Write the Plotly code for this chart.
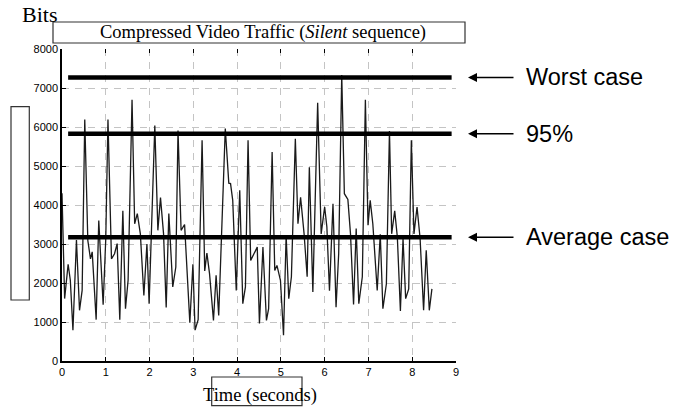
import plotly.graph_objects as go

# ---- data ----
time_s = [0.00, 0.06, 0.14, 0.19, 0.25, 0.33, 0.40, 0.46, 0.52, 0.59, 0.65, 0.69, 0.78, 0.84, 0.94, 1.00,
          1.05, 1.13, 1.20, 1.26, 1.32, 1.39, 1.45, 1.51, 1.60, 1.66, 1.72, 1.79, 1.87, 1.94, 1.99,
          2.12, 2.19, 2.25, 2.32, 2.38, 2.44, 2.53, 2.60, 2.65, 2.72, 2.80, 2.92, 2.99, 3.04, 3.11,
          3.20, 3.26, 3.31, 3.37, 3.46, 3.52, 3.58, 3.65, 3.73, 3.81, 3.85, 3.90, 3.98, 4.06, 4.13,
          4.19, 4.25, 4.31, 4.38, 4.46, 4.51, 4.59, 4.67, 4.72, 4.80, 4.86, 4.91, 4.99, 5.06, 5.12,
          5.18, 5.24, 5.33, 5.39, 5.45, 5.53, 5.60, 5.65, 5.73, 5.84, 5.92, 6.00, 6.05, 6.11, 6.19,
          6.26, 6.32, 6.39, 6.45, 6.53, 6.59, 6.66, 6.72, 6.78, 6.86, 6.93, 6.99, 7.04, 7.10, 7.20,
          7.27, 7.33, 7.41, 7.48, 7.53, 7.60, 7.66, 7.73, 7.79, 7.85, 7.92, 7.98, 8.04, 8.11, 8.18,
          8.26, 8.32, 8.39, 8.45]
bits = [4300, 1600, 2480, 2070, 790, 3100, 1300, 1810, 6190, 3090, 2620, 2800, 1060, 3600, 1440, 3140,
        6190, 2620, 2750, 3010, 1060, 3850, 1340, 2070, 6700, 3520, 3780, 3260, 1680, 3000, 1470,
        6040, 3350, 4190, 3260, 1370, 3780, 1900, 2410, 5910, 3350, 3500, 980, 2480, 790, 1060,
        5660, 2310, 2770, 2240, 1040, 2200, 1170, 3440, 5960, 4560, 4550, 4120, 1810, 4380, 1470,
        1900, 5660, 2580, 2750, 2920, 960, 2920, 1040, 1340, 5360, 2320, 2450, 2070, 660, 3220,
        1600, 2160, 5700, 3520, 4200, 3260, 2160, 4970, 1770, 6620, 3260, 3950, 3440, 1800, 4030,
        1380, 2750, 7330, 4290, 4140, 3260, 1450, 3400, 1470, 2160, 6700, 3480, 4120, 3520, 1810,
        3250, 1340, 1980, 5900, 3260, 3850, 3180, 1280, 3140, 1600, 1850, 5660, 3260, 3950, 3140,
        1300, 2840, 1300, 1850]

ref_labels = ["Worst case", "95%", "Average case"]
ref_levels = [7270, 5830, 3170]
ref_span = [0.14, 8.9]

x_ticks = [0, 1, 2, 3, 4, 5, 6, 7, 8, 9]
y_ticks = [0, 1000, 2000, 3000, 4000, 5000, 6000, 7000, 8000]

title_text = "Compressed Video Traffic (<i>Silent</i> sequence)"
x_title = "Time (seconds)"
y_title = "Bits"

# ---- figure ----
fig = go.Figure()
fig.add_trace(go.Scatter(x=time_s, y=bits, mode="lines",
                         line=dict(color="#1a1a1a", width=1.3), hoverinfo="skip", showlegend=False))
for lvl in ref_levels:
    fig.add_trace(go.Scatter(x=ref_span, y=[lvl, lvl], mode="lines",
                             line=dict(color="black", width=4.5), showlegend=False, hoverinfo="skip"))

serif = "Liberation Serif, Times New Roman, serif"
sans = "Liberation Sans, Arial, sans-serif"

axis_common = dict(showgrid=True, gridcolor="#c4c4c4", gridwidth=1, griddash="7px,6px",
                   showline=True, linecolor="black", linewidth=1.5, zeroline=False,
                   ticks="inside", ticklen=4, tickcolor="black", tickwidth=1,
                   tickfont=dict(family=sans, size=11, color="black"))

fig.update_layout(
    width=677, height=408,
    margin=dict(l=62, r=221, t=49, b=47),
    paper_bgcolor="white", plot_bgcolor="white",
    xaxis=dict(range=[0, 9], tickvals=x_ticks, ticktext=[str(v) for v in x_ticks], **axis_common),
    yaxis=dict(range=[0, 8000], tickvals=y_ticks, ticktext=[str(v) for v in y_ticks], **axis_common),
    xaxis2=dict(range=[0, 9], overlaying="x", side="top", tickvals=x_ticks, showticklabels=False,
                ticks="inside", ticklen=4, tickcolor="black", showgrid=False, showline=False, zeroline=False),
    showlegend=False,
)
# invisible trace to activate the top axis ticks
fig.add_trace(go.Scatter(x=[0, 9], y=[None, None], xaxis="x2", mode="lines", showlegend=False, hoverinfo="skip"))

def px_x(px):
    return (px - 62) / 394.0

def px_y(py):
    return (361 - py) / 312.0

shapes = []
# title box
shapes.append(dict(type="rect", xref="paper", yref="paper", x0=px_x(53), x1=px_x(465), y0=px_y(43), y1=px_y(22),
                   line=dict(color="#333333", width=1.2), fillcolor="rgba(0,0,0,0)"))
# empty left box
shapes.append(dict(type="rect", xref="paper", yref="paper", x0=px_x(11), x1=px_x(29.3), y0=px_y(300), y1=px_y(106.7),
                   line=dict(color="#333333", width=1.2), fillcolor="rgba(0,0,0,0)"))
# time label box
shapes.append(dict(type="rect", xref="paper", yref="paper", x0=px_x(211.7), x1=px_x(302), y0=px_y(405.7), y1=px_y(377),
                   line=dict(color="#333333", width=1.2), fillcolor="rgba(0,0,0,0)"))
fig.update_layout(shapes=shapes)

ann = []
ann.append(dict(text=title_text, xref="paper", yref="paper", x=px_x(262.5), y=px_y(32.5),
                xanchor="center", yanchor="middle", showarrow=False,
                font=dict(family=serif, size=18.5, color="black")))
ann.append(dict(text=y_title, xref="paper", yref="paper", x=px_x(20), y=px_y(15),
                xanchor="left", yanchor="middle", showarrow=False,
                font=dict(family=serif, size=22, color="black")))
ann.append(dict(text=x_title, xref="paper", yref="paper", x=px_x(259.5), y=px_y(395),
                xanchor="center", yanchor="middle", showarrow=False,
                font=dict(family=serif, size=18.5, color="black")))
for lbl, lvl in zip(ref_labels, ref_levels):
    ann.append(dict(text="", xref="paper", yref="y", x=px_x(468), y=lvl, ax=47, ay=0,
                    showarrow=True, arrowhead=2, arrowsize=1.2, arrowwidth=1.5, arrowcolor="black", standoff=0))
    ann.append(dict(text=lbl, xref="paper", yref="y", x=px_x(524), y=lvl,
                    xanchor="left", yanchor="middle", showarrow=False,
                    font=dict(family=sans, size=23.5, color="black")))
fig.update_layout(annotations=ann)

fig.write_html("out.html")
